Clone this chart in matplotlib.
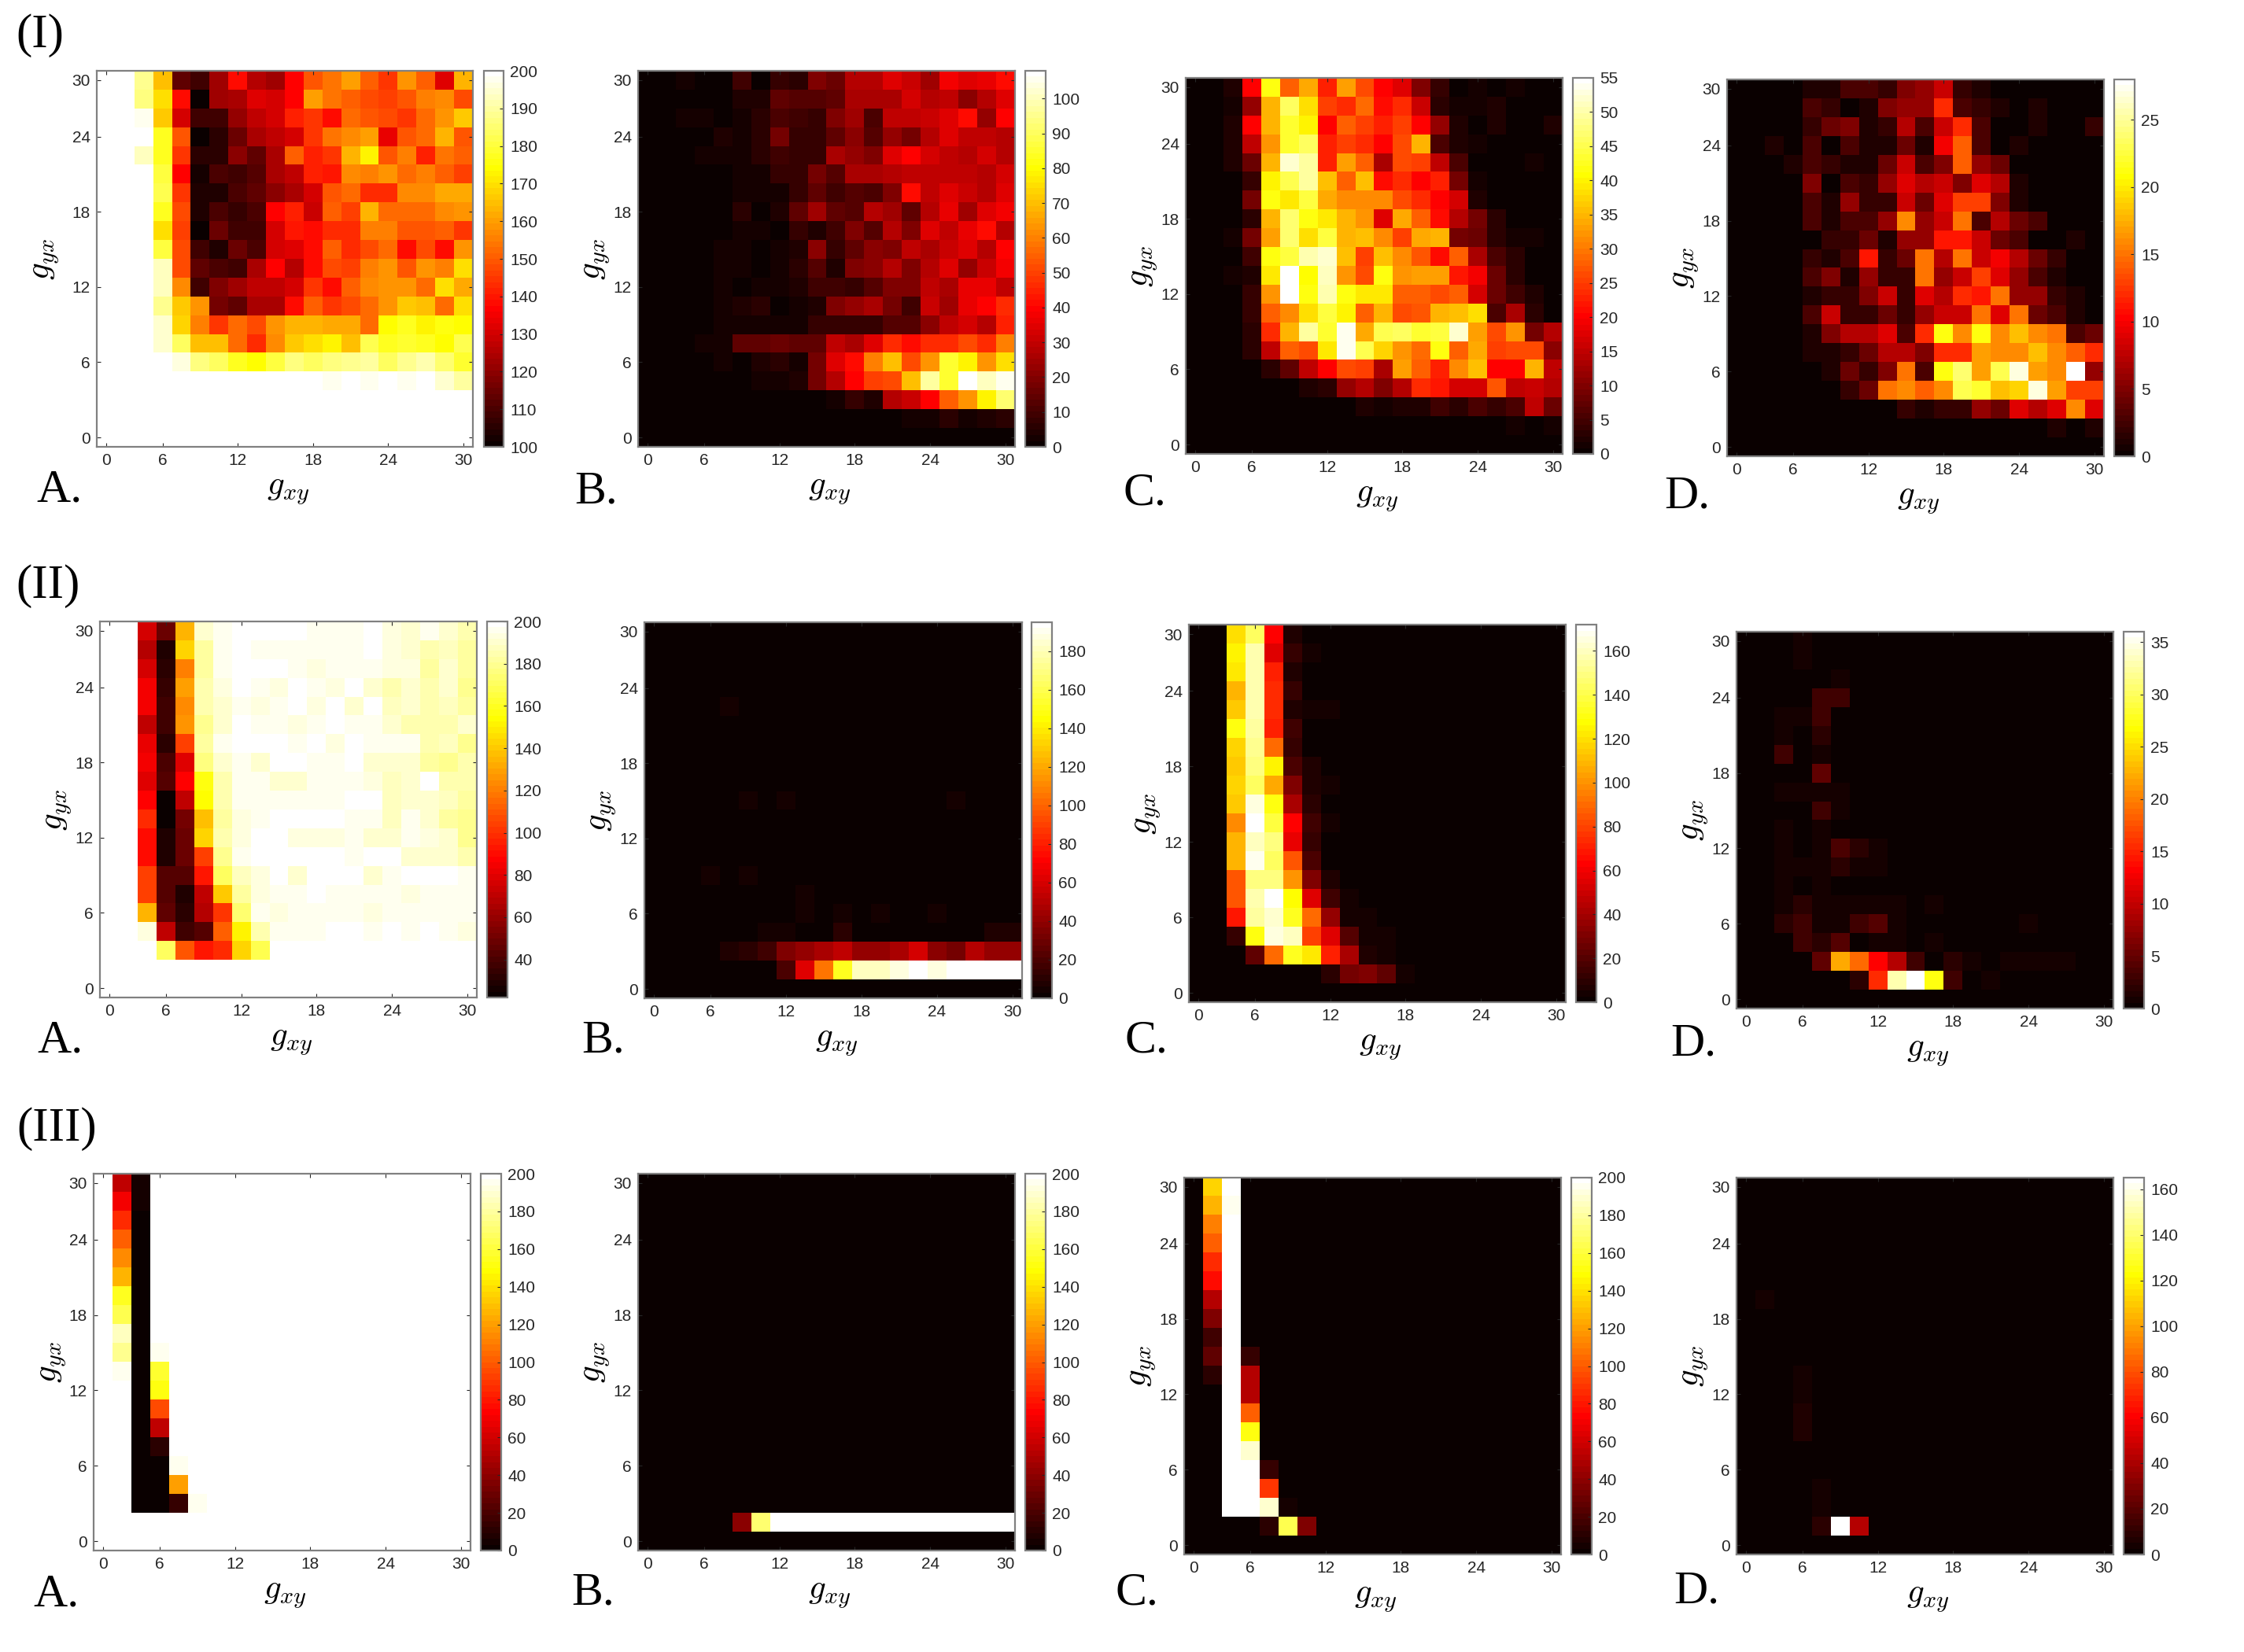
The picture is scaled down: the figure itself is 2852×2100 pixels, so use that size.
import matplotlib
matplotlib.use('Agg')
import matplotlib.pyplot as plt
import numpy as np

W, H = 2852, 2100
plt.rcParams['font.family'] = ['Liberation Sans', 'DejaVu Sans']
plt.rcParams['mathtext.fontset'] = 'cm'

tick_index = [0, 3, 7, 11, 15, 19]
xtick_labels = ['0', '6', '12', '18', '24', '30']
ytick_labels = ['30', '24', '18', '12', '6', '0']

# rows go top to bottom (g_yx = 30 first), 20 x 20 cells
I_A = [
[200,200,188,165,114,108,122,138,125,122,137,149,154,160,151,145,158,151,132,164],
[200,200,186,169,138,100,122,124,132,130,137,160,154,150,148,146,149,155,157,148],
[200,200,198,166,130,108,108,121,128,130,142,145,138,152,149,148,145,152,159,167],
[200,200,200,177,149,100,106,115,124,127,131,145,154,157,160,133,149,152,163,149],
[200,200,193,178,144,105,105,120,113,124,150,142,145,163,172,149,155,142,154,151],
[200,200,200,180,137,103,110,108,112,124,128,142,140,157,156,158,153,156,151,146],
[200,200,200,182,144,104,104,110,113,120,124,131,149,152,143,143,157,157,161,161],
[200,200,200,178,148,104,110,107,110,137,142,129,150,146,163,152,152,152,157,159],
[200,200,199,169,146,101,115,108,109,130,140,138,143,143,156,156,149,149,151,144],
[200,200,199,180,147,108,104,115,110,130,132,138,151,143,147,152,139,147,138,158],
[200,200,200,193,148,114,110,109,124,137,126,138,148,146,156,159,149,158,155,170],
[200,200,200,193,157,108,118,122,127,127,130,144,139,151,157,159,159,152,170,162],
[200,200,200,188,167,159,116,113,124,124,138,150,144,148,152,158,166,165,152,169],
[200,200,200,195,168,155,145,152,147,158,163,164,162,162,152,174,178,172,176,174],
[200,200,200,194,183,165,165,152,143,157,167,170,173,165,182,177,179,178,174,182],
[200,200,200,200,196,187,183,178,174,181,186,183,187,188,190,183,189,192,185,179],
[200,200,200,200,200,200,200,200,200,200,200,200,198,200,197,200,198,200,195,190],
[200]*20,
[200]*20,
[200]*20,
]
I_B = [
[0,0,3,0,0,9,1,7,6,19,16,27,27,35,31,24,38,34,36,41],
[0,0,0,0,0,5,5,14,12,13,14,26,26,26,33,28,30,21,28,35],
[0,0,3,3,0,3,6,11,9,8,20,25,11,30,30,32,35,41,22,39],
[0,0,0,0,5,3,6,17,8,7,15,21,13,22,18,27,34,30,29,27],
[0,0,0,2,2,2,6,10,8,8,26,22,19,35,40,33,30,28,33,27],
[0,0,0,0,1,3,3,8,7,17,12,26,26,27,30,30,30,30,27,33],
[0,0,0,0,1,3,3,3,8,14,10,12,11,19,41,30,34,32,28,34],
[0,0,0,0,1,6,1,5,15,25,14,13,28,25,15,28,36,24,34,38],
[0,0,0,0,1,3,3,0,7,5,10,20,13,27,20,34,29,36,41,28],
[0,0,0,0,3,3,1,2,4,21,8,14,21,19,29,26,31,34,28,40],
[0,0,0,0,3,3,0,3,6,12,4,20,21,28,20,27,35,22,32,38],
[0,0,0,0,3,0,3,3,5,9,9,8,13,20,20,30,26,36,37,29],
[0,0,0,0,2,5,6,0,2,5,20,22,26,18,9,31,24,36,39,47],
[0,0,0,0,2,2,2,2,2,8,8,8,8,13,13,21,30,33,28,45],
[0,0,0,3,3,14,14,16,15,15,30,26,34,46,42,46,47,52,47,60],
[0,0,0,0,3,0,5,6,3,17,35,42,60,70,52,63,85,78,63,75],
[0,0,0,0,0,0,2,2,5,17,28,40,50,52,70,97,85,108,100,105],
[0,0,0,0,0,0,0,0,0,0,3,8,5,27,31,40,55,63,78,92],
[0,0,0,0,0,0,0,0,0,0,0,0,0,0,2,3,6,2,5,6],
[0]*20,
]
I_C = [
[0,0,2,20,42,28,34,23,33,26,20,18,10,4,0,1,0,1,0,0],
[0,0,1,12,35,46,38,25,24,29,21,24,16,3,1,1,2,0,0,0],
[0,0,2,20,35,43,40,20,28,25,23,25,20,12,2,0,2,0,0,2],
[0,0,2,15,32,43,46,23,25,24,20,26,35,6,2,1,0,0,0,0],
[0,0,2,8,35,52,49,23,33,28,13,26,25,15,6,0,0,0,1,0],
[0,0,0,4,40,45,49,36,28,36,21,24,20,23,9,1,0,0,0,0],
[0,0,0,9,42,39,44,34,31,31,31,26,24,20,17,2,0,0,0,0],
[0,0,0,3,35,47,42,39,35,32,18,34,28,21,14,9,3,0,0,0],
[0,0,1,9,33,47,38,44,35,36,31,25,34,35,9,8,3,1,1,0],
[0,0,0,5,42,44,50,52,36,25,36,31,27,21,28,13,6,3,0,0],
[0,0,1,2,39,55,41,51,32,26,42,32,33,33,22,19,8,3,0,0],
[0,0,0,4,32,55,42,50,42,39,39,28,28,26,28,17,8,5,2,0],
[0,0,0,4,28,31,38,44,40,28,35,26,27,35,36,38,6,13,3,0],
[0,0,0,3,24,35,49,43,54,34,45,46,43,44,52,33,26,32,9,14],
[0,0,0,3,15,28,26,39,54,45,37,32,29,42,28,34,25,26,26,11],
[0,0,0,0,3,7,15,20,26,25,13,33,28,23,31,36,20,20,35,15],
[0,0,0,0,0,0,2,3,12,14,10,14,24,22,17,17,27,15,16,14],
[0,0,0,0,0,0,0,0,0,2,1,2,2,5,3,6,4,6,15,8],
[0,0,0,0,0,0,0,0,0,0,0,0,0,0,0,0,0,1,0,1],
[0]*20,
]
I_D = [
[0,0,0,0,1,1,3,3,2,5,6,8,2,1,0,0,0,0,0,0],
[0,0,0,0,3,2,0,1,5,6,6,12,3,2,1,0,1,0,0,0],
[0,0,0,0,2,4,5,1,2,7,3,8,12,3,0,0,1,0,0,2],
[0,0,1,0,3,0,3,1,1,4,1,10,14,3,0,1,0,0,0,0],
[0,0,0,1,3,2,1,1,4,8,3,5,14,6,4,0,0,0,0,0],
[0,0,0,0,5,0,3,2,6,9,7,8,5,9,7,1,0,0,0,0],
[0,0,0,0,3,1,6,2,2,8,4,9,13,13,5,1,0,0,0,0],
[0,0,0,0,3,1,3,3,6,16,6,8,15,3,7,4,3,0,0,0],
[0,0,0,0,0,2,2,4,1,6,6,11,11,8,4,3,0,0,1,0],
[0,0,0,0,2,1,3,11,2,4,15,7,15,8,10,7,4,2,0,0],
[0,0,0,0,3,5,1,6,2,2,15,6,8,13,9,6,3,1,0,0],
[0,0,0,0,1,2,2,5,8,2,9,7,12,11,15,6,6,2,1,0],
[0,0,0,0,3,8,2,2,4,2,6,8,8,15,9,15,4,3,1,0],
[0,0,0,0,1,5,7,7,9,3,12,21,16,21,16,18,16,15,3,4],
[0,0,0,0,1,1,2,4,7,7,5,12,12,17,16,16,18,16,14,12],
[0,0,0,0,0,1,4,2,5,15,3,21,24,17,23,27,17,16,28,6],
[0,0,0,0,0,0,2,4,15,16,14,16,23,22,18,19,27,17,13,13],
[0,0,0,0,0,0,0,0,0,2,1,2,2,6,4,9,7,9,16,9],
[0,0,0,0,0,0,0,0,0,0,0,0,0,0,0,0,0,1,0,1],
[0]*20,
]
II_A = [
[200,200,75,48,135,190,197,200,200,199,200,197,197,195,199,193,190,197,190,186],
[200,200,68,30,143,182,195,200,197,197,197,197,197,195,200,192,190,186,188,182],
[200,200,75,33,120,183,195,198,200,200,197,193,197,197,195,194,193,182,190,182],
[200,200,85,35,128,184,193,200,197,193,200,195,192,200,189,186,191,186,191,178],
[200,200,85,38,124,184,191,196,192,197,200,192,200,190,200,188,190,186,188,182],
[200,200,72,36,125,178,190,200,195,195,193,196,200,197,197,191,186,184,184,190],
[200,200,82,33,104,181,197,199,200,200,195,200,192,200,197,197,197,184,188,178],
[200,200,84,40,80,176,190,197,191,200,200,197,197,200,191,191,191,182,180,184],
[200,200,80,42,88,158,186,195,195,191,191,195,195,197,193,188,191,199,186,184],
[200,200,87,22,70,155,186,195,195,195,195,195,195,200,200,188,190,191,188,182],
[200,200,98,24,50,137,181,193,197,200,200,200,200,197,197,188,197,190,183,178],
[200,200,91,28,48,143,186,193,198,200,192,192,192,197,190,190,195,193,191,178],
[200,200,90,30,48,105,179,197,199,199,199,199,199,197,199,199,191,191,191,186],
[200,200,105,44,44,93,170,188,193,198,191,200,198,198,191,195,198,198,198,195],
[200,200,105,44,30,70,140,182,193,197,197,200,197,197,197,197,192,197,197,195],
[200,200,135,45,33,67,100,173,195,193,197,197,197,197,193,197,197,197,197,197],
[200,200,192,72,38,42,112,152,184,197,197,197,199,199,197,199,197,199,197,193],
[200,200,200,172,110,92,98,142,168,199,199,200,200,200,200,200,200,198,198,200],
[200]*20,
[200]*20,
]
II_B = [
[0]*20,
[0]*20,
[0]*20,
[0]*20,
[0,0,0,0,6,0,0,0,0,0,0,0,0,0,0,0,0,0,0,0],
[0]*20,
[0]*20,
[0]*20,
[0]*20,
[0,0,0,0,0,5,0,5,0,0,0,0,0,0,0,0,5,0,0,0],
[0]*20,
[0]*20,
[0]*20,
[0,0,0,5,0,6,0,0,0,0,0,0,0,0,0,0,0,0,0,0],
[0,0,0,0,0,0,0,0,5,0,0,0,0,0,0,0,0,0,0,0],
[0,0,0,0,0,0,0,0,5,0,5,0,6,0,0,5,0,0,0,0],
[0,0,0,0,0,0,6,6,0,0,12,0,0,0,0,0,0,0,8,8],
[0,0,0,0,7,10,18,35,42,48,52,40,40,47,58,38,32,50,42,42],
[0,0,0,0,0,0,0,20,62,105,150,180,182,188,195,186,195,195,195,195],
[0]*20,
]
II_C = [
[0,0,120,145,62,6,0,0,0,0,0,0,0,0,0,0,0,0,0,0],
[0,0,125,158,55,12,3,0,0,0,0,0,0,0,0,0,0,0,0,0],
[0,0,122,158,70,8,0,0,0,0,0,0,0,0,0,0,0,0,0,0],
[0,0,108,158,75,11,2,0,0,0,0,0,0,0,0,0,0,0,0,0],
[0,0,114,158,73,7,3,3,0,0,0,0,0,0,0,0,0,0,0,0],
[0,0,130,155,70,14,1,0,0,0,0,0,0,0,0,0,0,0,0,0],
[0,0,118,153,90,12,1,0,0,0,0,0,0,0,0,0,0,0,0,0],
[0,0,115,148,125,18,8,0,0,0,0,0,0,0,0,0,0,0,0,0],
[0,0,118,143,105,30,7,3,0,0,0,0,0,0,0,0,0,0,0,0],
[0,0,115,165,130,42,9,0,0,0,0,0,0,0,0,0,0,0,0,0],
[0,0,98,172,138,62,14,3,0,0,0,0,0,0,0,0,0,0,0,0],
[0,0,108,160,150,57,11,2,0,0,0,0,0,0,0,0,0,0,0,0],
[0,0,108,167,143,84,17,2,0,0,0,0,0,0,0,0,0,0,0,0],
[0,0,84,150,150,100,30,6,0,0,0,0,0,0,0,0,0,0,0,0],
[0,0,84,158,172,128,55,14,3,0,0,0,0,0,0,0,0,0,0,0],
[0,0,68,155,162,133,90,35,3,3,0,0,0,0,0,0,0,0,0,0],
[0,0,12,130,166,160,80,55,20,3,3,0,0,0,0,0,0,0,0,0],
[0,0,0,22,90,133,122,72,42,8,4,0,0,0,0,0,0,0,0,0],
[0,0,0,0,0,0,0,10,28,32,22,4,0,0,0,0,0,0,0,0],
[0]*20,
]
II_D = [
[0,0,0,1,0,0,0,0,0,0,0,0,0,0,0,0,0,0,0,0],
[0,0,0,1,0,0,0,0,0,0,0,0,0,0,0,0,0,0,0,0],
[0,0,0,0,0,1,0,0,0,0,0,0,0,0,0,0,0,0,0,0],
[0,0,0,0,3,3,0,0,0,0,0,0,0,0,0,0,0,0,0,0],
[0,0,1,1,3,0,0,0,0,0,0,0,0,0,0,0,0,0,0,0],
[0,0,1,0,2,0,0,0,0,0,0,0,0,0,0,0,0,0,0,0],
[0,0,3,0,1,0,0,0,0,0,0,0,0,0,0,0,0,0,0,0],
[0,0,0,0,5,0,0,0,0,0,0,0,0,0,0,0,0,0,0,0],
[0,0,1,1,1,1,0,0,0,0,0,0,0,0,0,0,0,0,0,0],
[0,0,0,0,3,1,0,0,0,0,0,0,0,0,0,0,0,0,0,0],
[0,0,1,0,1,0,0,0,0,0,0,0,0,0,0,0,0,0,0,0],
[0,0,1,0,1,3.5,2,1,0,0,0,0,0,0,0,0,0,0,0,0],
[0,0,1,1,1,2,1,1,0,0,0,0,0,0,0,0,0,0,0,0],
[0,0,1,0,1,0,0,0,0,0,0,0,0,0,0,0,0,0,0,0],
[0,0,1,2,1,1,1,1,1,0,1,0,0,0,0,0,0,0,0,0],
[0,0,2,3,1,1,3,4,1,0,0,0,0,0,0,1,0,0,0,0],
[0,0,0,3,2,4,0,1,1,0,1,0,0,0,0,0,0,0,0,0],
[0,0,0,0,5,22,19,13,9,3,0,2,1,0,1,1,1,1,0,0],
[0,0,0,0,0,0,2,15.5,33,36,27,3,0,1,0,0,0,0,0,0],
[0]*20,
]
III_A = [
[200,55,5,200,200,200,200,200,200,200,200,200,200,200,200,200,200,200,200,200],
[200,70,5,200,200,200,200,200,200,200,200,200,200,200,200,200,200,200,200,200],
[200,85,0,200,200,200,200,200,200,200,200,200,200,200,200,200,200,200,200,200],
[200,100,0,200,200,200,200,200,200,200,200,200,200,200,200,200,200,200,200,200],
[200,115,0,200,200,200,200,200,200,200,200,200,200,200,200,200,200,200,200,200],
[200,128,0,200,200,200,200,200,200,200,200,200,200,200,200,200,200,200,200,200],
[200,155,0,200,200,200,200,200,200,200,200,200,200,200,200,200,200,200,200,200],
[200,165,0,200,200,200,200,200,200,200,200,200,200,200,200,200,200,200,200,200],
[200,185,0,200,200,200,200,200,200,200,200,200,200,200,200,200,200,200,200,200],
[200,178,0,195,200,200,200,200,200,200,200,200,200,200,200,200,200,200,200,200],
[200,195,0,158,200,200,200,200,200,200,200,200,200,200,200,200,200,200,200,200],
[200,200,0,150,200,200,200,200,200,200,200,200,200,200,200,200,200,200,200,200],
[200,200,0,95,200,200,200,200,200,200,200,200,200,200,200,200,200,200,200,200],
[200,200,0,55,200,200,200,200,200,200,200,200,200,200,200,200,200,200,200,200],
[200,200,0,12,200,200,200,200,200,200,200,200,200,200,200,200,200,200,200,200],
[200,200,0,0,195,200,200,200,200,200,200,200,200,200,200,200,200,200,200,200],
[200,200,0,0,120,200,200,200,200,200,200,200,200,200,200,200,200,200,200,200],
[200,200,0,0,15,196,200,200,200,200,200,200,200,200,200,200,200,200,200,200],
[200]*20,
[200]*20,
]
III_B = [[0]*20 for row in range(18)] + [
[0,0,0,0,0,38,170,200,200,200,200,200,200,200,200,200,200,200,200,200],
[0]*20,
]
III_C = [
[0,135,200,0,0,0,0]+[0]*13,
[0,125,195,0,0,0,0]+[0]*13,
[0,112,200,0,0,0,0]+[0]*13,
[0,100,200,0,0,0,0]+[0]*13,
[0,85,200,0,0,0,0]+[0]*13,
[0,75,200,0,0,0,0]+[0]*13,
[0,50,200,0,0,0,0]+[0]*13,
[0,35,200,0,0,0,0]+[0]*13,
[0,18,200,0,0,0,0]+[0]*13,
[0,25,200,15,0,0,0]+[0]*13,
[0,12,200,50,0,0,0]+[0]*13,
[0,0,200,50,0,0,0]+[0]*13,
[0,0,200,100,0,0,0]+[0]*13,
[0,0,200,150,0,0,0]+[0]*13,
[0,0,200,190,0,0,0]+[0]*13,
[0,0,200,200,15,0,0]+[0]*13,
[0,0,200,200,90,0,0]+[0]*13,
[0,0,200,200,190,6,0]+[0]*13,
[0,0,0,0,10,165,35]+[0]*13,
[0]*20,
]
III_D = [
[0]*20,
[0]*20,
[0]*20,
[0]*20,
[0]*20,
[0]*20,
[0,5]+[0]*18,
[0]*20,
[0]*20,
[0]*20,
[0,0,0,5]+[0]*16,
[0,0,0,3]+[0]*16,
[0,0,0,7]+[0]*16,
[0,0,0,7]+[0]*16,
[0]*20,
[0]*20,
[0,0,0,0,5]+[0]*15,
[0,0,0,0,5]+[0]*15,
[0,0,0,0,9,165,42]+[0]*13,
[0]*20,
]

panels = [I_A, I_B, I_C, I_D, II_A, II_B, II_C, II_D, III_A, III_B, III_C, III_D]
vmins = [100, 0, 0, 0, 22, 0, 0, 0, 0, 0, 0, 0]
vmaxs = [200, 108, 55, 28, 200, 195, 172, 36, 200, 200, 200, 165]
cbar_ticks = [np.arange(100, 201, 10), np.arange(0, 101, 10), np.arange(0, 56, 5), np.arange(0, 26, 5),
              np.arange(40, 201, 20), np.arange(0, 181, 20), np.arange(0, 161, 20), np.arange(0, 36, 5),
              np.arange(0, 201, 20), np.arange(0, 201, 20), np.arange(0, 201, 20), np.arange(0, 161, 20)]
letters = ['A.', 'B.', 'C.', 'D.'] * 3

# layout in reference pixels: left, right, top, bottom, cbar left, cbar right
boxes = [(123, 601, 90, 568, 615, 640), (811, 1290, 90, 568, 1303, 1329),
         (1507, 1986, 99, 577, 1999, 2025), (2195, 2674, 101, 580, 2687, 2713),
         (127, 606, 790, 1268, 619, 645), (819, 1299, 791, 1269, 1311, 1337),
         (1511, 1990, 794, 1274, 2003, 2029), (2207, 2686, 803, 1282, 2699, 2725),
         (119, 598, 1492, 1971, 611, 637), (811, 1290, 1492, 1971, 1303, 1329),
         (1505, 1984, 1497, 1976, 1997, 2023), (2207, 2686, 1497, 1976, 2699, 2725)]
ylabel_off = [65, 53, 53, 53, 53, 53, 53, 53, 52, 53, 53, 53]
letter_pos = [(46, 637), (730, 639), (1428, 642), (2115, 645),
              (47, 1338), (739, 1338), (1430, 1337), (2123, 1342),
              (42, 2041), (726, 2040), (1418, 2040), (2127, 2038)]
row_titles = [('(I)', 20, 60), ('(II)', 20, 760), ('(III)', 21, 1450)]

fig = plt.figure(figsize=(W/100, H/100), dpi=100)
hot = plt.get_cmap('hot', 64)
edge = '#808080'
ink = '#262626'


def px_rect(x0, x1, y0, y1):
    return [x0/W, 1-y1/H, (x1-x0)/W, (y1-y0)/H]


for i, data in enumerate(panels):
    x0, x1, y0, y1, c0, c1 = boxes[i]
    ax = fig.add_axes(px_rect(x0, x1, y0, y1))
    im = ax.imshow(np.array(data, dtype=float), cmap=hot, vmin=vmins[i], vmax=vmaxs[i],
                   aspect='auto', interpolation='nearest')
    ax.set_xticks(tick_index)
    ax.set_xticklabels(xtick_labels)
    ax.set_yticks(tick_index)
    ax.set_yticklabels(ytick_labels)
    ax.tick_params(direction='in', top=True, right=True, length=3.5, width=0.8, color=ink,
                   labelsize=15, labelcolor=ink, pad=6)
    for s in ax.spines.values():
        s.set_color(edge)
        s.set_linewidth(1.6)

    cax = fig.add_axes(px_rect(c0, c1, y0, y1))
    cb = fig.colorbar(im, cax=cax)
    cb.set_ticks(cbar_ticks[i])
    cb.ax.tick_params(direction='in', length=3.5, width=0.8, color=ink, labelsize=15,
                      labelcolor=ink, pad=6)
    cb.outline.set_edgecolor(edge)
    cb.outline.set_linewidth(1.6)

    fig.text((x0+x1)/2/W+0.0015, 1-(y1+56)/H, r'$g_{xy}$', fontsize=31, ha='center', va='center', color='black')
    fig.text((x0-ylabel_off[i])/W, 1-(y0+y1)/2/H, r'$g_{yx}$', fontsize=31, rotation=90, ha='center', va='center', color='black')
    fig.text(letter_pos[i][0]/W, 1-letter_pos[i][1]/H, letters[i], fontsize=43,
             family='Liberation Serif', ha='left', va='baseline', color='black')

for label, x, y in row_titles:
    fig.text(x/W, 1-y/H, label, fontsize=44, family='Liberation Serif', ha='left', va='baseline', color='black')

fig.savefig('out.png', dpi=100, facecolor='white')
